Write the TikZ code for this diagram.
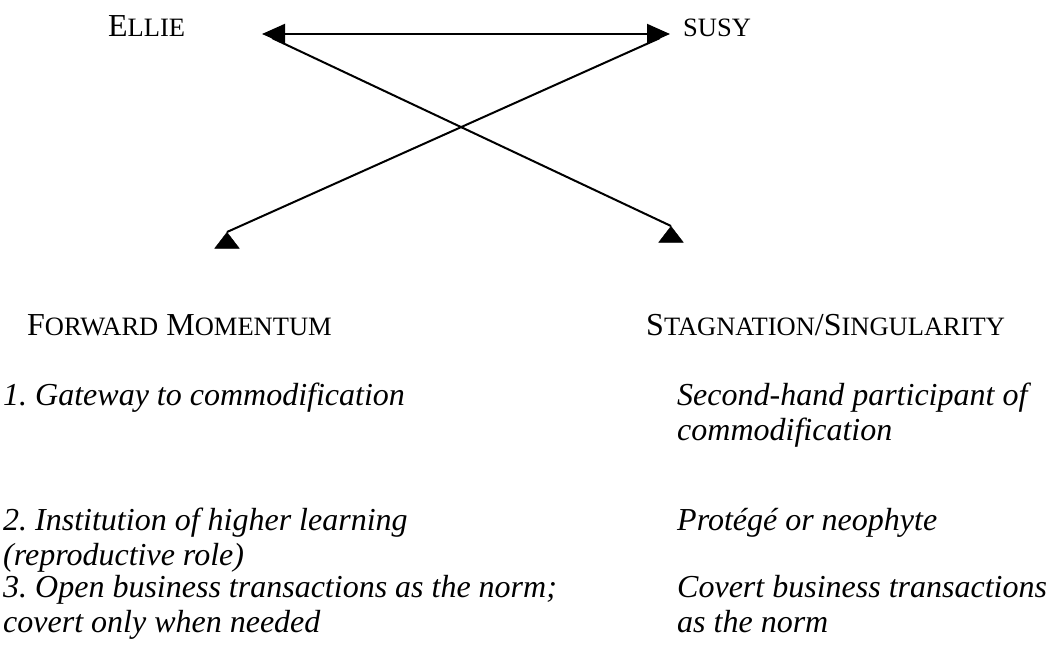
\documentclass[tikz,border=0pt]{standalone}
\usepackage{fontspec}
\setmainfont{Liberation Serif}
\usetikzlibrary{arrows.meta,shapes.geometric}
\newcommand{\fsc}[1]{{\fontsize{26.5}{30}\selectfont #1}}
\begin{document}
\begin{tikzpicture}[x=1pt,y=-1pt,
  lbl/.style={anchor=base west,inner sep=0pt,font=\fontsize{32}{35}\selectfont\frenchspacing},
  itl/.style={lbl,font=\fontsize{32}{35}\selectfont\itshape\frenchspacing,align=left},
  tri/.style={isosceles triangle,isosceles triangle apex angle=75,shape border rotate=90,fill=black,draw=black,inner sep=0pt,minimum height=16pt,minimum width=21pt},
  conn/.style={line width=2pt},
  both/.style={{Triangle[length=23pt,width=20pt]}-{Triangle[length=23pt,width=20pt]}}]
\useasboundingbox (0,0) rectangle (1061,665);
\node[lbl] (ellie) at (108,36) {E\fsc{LLIE}};
\node[lbl] (susy) at (683,36) {\fsc{SUSY}};
\coordinate (lt) at (262,34);
\coordinate (rt) at (670,34);
\coordinate (ls) at (272,38);
\coordinate (rs) at (660,38);
\node[tri,anchor=apex] (tl) at (227,232) {};
\node[tri,anchor=apex] (tr) at (671,226) {};
\draw[conn,both] (lt) -- (rt);
\draw[conn] (ls) -- (tr.apex);
\draw[conn] (rs) -- (tl.apex);
\node[lbl] (fm) at (27,335) {F\fsc{ORWARD} M\fsc{OMENTUM}};
\node[lbl] (ss) at (646,335) {S\fsc{TAGNATION}/S\fsc{INGULARITY}};
\node[itl] (a1) at (3,405) {1. Gateway to commodification};
\node[itl] (b1) at (677,440) {Second-hand participant of\\commodification};
\node[itl] (a2) at (3,565) {2. Institution of higher learning\\(reproductive role)};
\node[itl] (b2) at (677,530) {Protégé or neophyte};
\node[itl] (a3) at (3,632) {3. Open business transactions as the norm;\\covert only when needed};
\node[itl] (b3) at (677,632) {Covert business transactions\\as the norm};
\end{tikzpicture}
\end{document}
